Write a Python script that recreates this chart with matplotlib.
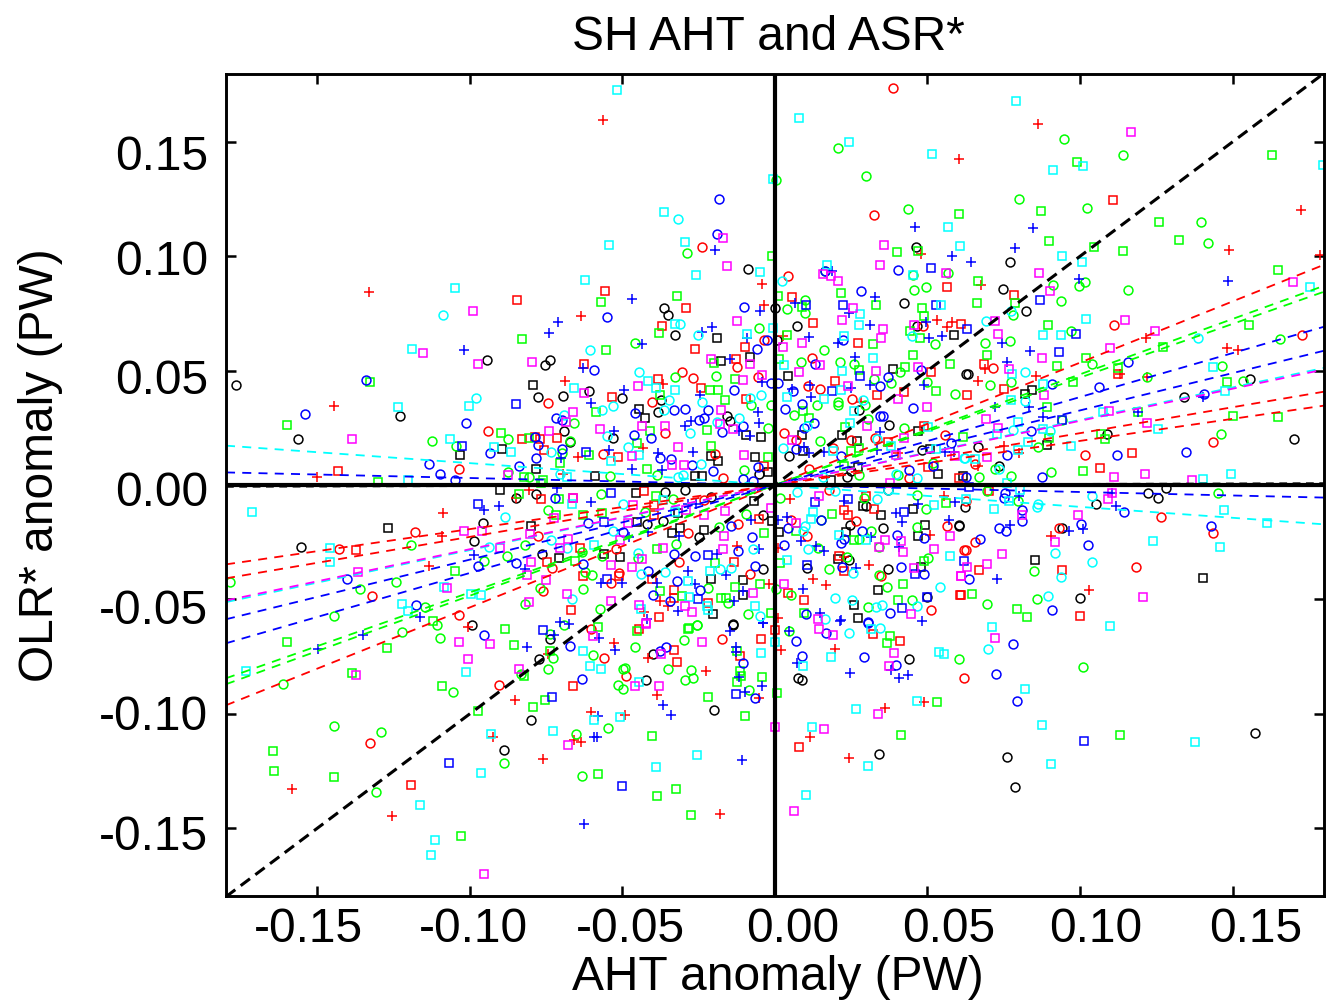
import matplotlib
matplotlib.use("Agg")
import matplotlib.pyplot as plt
from matplotlib.transforms import ScaledTranslation

plt.rcParams['font.family'] = ['Liberation Sans', 'DejaVu Sans']

# ---------- data: (AHT anomaly, OLR* anomaly) in PW ----------
black_circles = [(-0.0364,0.0775),(-0.0351,0.0745),(-0.0089,0.0945),(0.0,0.0775),(0.0462,0.1041),(0.0423,0.0797),(0.0072,0.0697),(-0.0328,0.0657),(0.0005,0.0635),(0.0466,0.0697),(0.077,0.0976),(0.0748,0.0858),(0.0823,0.0762),(0.0633,0.0487),(0.1341,0.0386),(0.1557,0.0465),(0.1089,0.0225),(0.1702,0.0199),(0.0666,0.0164),(0.0734,0.0085),(0.1223,-0.0033),(0.1256,-0.0055),(0.1282,-0.0011),(0.0623,-0.0098),(0.1052,-0.0081),(0.0603,-0.0177),(0.0941,-0.019),(0.1,-0.0496),(0.1574,-0.1085),(0.0761,-0.119),(0.0787,-0.1321),(-0.04,-0.074),(-0.0138,-0.0609),(-0.0423,-0.0854),(-0.02,-0.0985),(0.0439,-0.0762),(0.0075,-0.0845),(0.0089,-0.0854),(0.0341,-0.1177),(-0.0993,-0.0614),(-0.0738,-0.0675),(-0.0774,-0.0762),(-0.08,-0.1028),(-0.0889,-0.1159),(-0.1767,0.0439),(-0.1564,0.0203),(-0.123,0.0303),(-0.0944,0.0548),(-0.0754,0.0526),(-0.0738,0.0548),(-0.0777,0.0386),(-0.0695,0.0391),(-0.061,0.0413),(-0.0692,0.0238),(-0.0672,0.0186),(-0.0784,-0.0041),(-0.0849,-0.0055),(-0.0957,-0.0168),(-0.0987,-0.0247),(-0.1554,-0.0269),(-0.0764,-0.0303),(-0.05,0.038),(-0.0374,0.037),(-0.0383,0.032),(-0.0157,0.0303),(-0.0146,0.0278),(-0.0532,0.0207),(-0.0051,0.0048),(0.0626,0.0486),(0.0277,0.0326),(0.0373,0.0263),(0.0482,0.0154),(0.0047,0.0125),(0.0249,0.006),(0.0236,0.0035),(-0.0361,-0.0031),(-0.0296,-0.0023),(-0.021,-0.0052),(-0.004,-0.0132),(-0.0248,-0.0229),(-0.0368,-0.0159),(-0.042,-0.0169),(-0.0038,-0.0367),(-0.0137,-0.0611),(0.0298,-0.009),(0.0369,-0.0023),(0.0247,-0.0176),(0.0353,-0.0186),(0.0604,-0.018),(0.0242,-0.0326),(0.0371,-0.0367),(0.0499,-0.0489),(0.0105,-0.0365)]
black_squares = [(0.0587,0.0657),(0.0843,0.0417),(0.082,0.04),(0.0892,0.0177),(0.0616,0.0041),(0.0852,-0.033),(0.1403,-0.0408),(-0.1033,0.0133),(-0.0895,0.0159),(-0.0793,0.0439),(-0.0784,0.0072),(-0.059,0.0041),(-0.1269,-0.0186),(-0.0902,-0.0024),(-0.08,-0.0181),(-0.0708,-0.0317),(-0.019,0.0644),(-0.0176,0.0543),(-0.0083,0.0559),(-0.0445,0.0332),(-0.0425,0.0295),(-0.0095,0.0217),(-0.0046,0.0208),(-0.021,0.0125),(-0.0187,0.0103),(-0.0066,0.0122),(-0.0263,0.0041),(-0.0239,0.0038),(-0.0022,0.0057),(0.0388,0.0507),(0.0042,0.0475),(0.022,0.022),(0.0087,0.022),(0.0469,0.0234),(0.0269,0.0191),(0.0093,0.015),(0.0509,0.0159),(0.0273,0.0079),(0.0184,0.002),(0.0533,0.0048),(-0.0455,-0.0036),(-0.0319,-0.0122),(-0.0068,-0.0071),(-0.001,-0.0159),(0.0012,-0.0205),(-0.0232,-0.0195),(-0.031,-0.0188),(-0.0338,-0.021),(-0.0452,-0.016),(-0.056,-0.03),(-0.0507,-0.0314),(-0.021,-0.041),(-0.0104,-0.0416),(-0.0106,-0.0482),(-0.0202,-0.0566),(0.0287,-0.009),(0.0348,-0.013),(0.0451,-0.0105),(0.0493,-0.0176),(0.047,-0.0224),(0.0233,-0.0205),(0.0208,-0.0323),(0.0479,-0.036),(0.0337,-0.046),(0.026,-0.0523),(0.0273,-0.0582)]
red_circles = [(0.0387,0.1736),(0.0325,0.1181),(-0.0239,0.1041),(0.0043,0.0915),(-0.0036,0.0635),(0.0485,0.0697),(0.0715,0.0513),(0.1111,0.0701),(0.1728,0.0657),(0.1016,0.0133),(0.1436,0.0186),(0.0656,0.0094),(0.0626,-0.0068),(0.1266,-0.0138),(0.0931,-0.019),(0.1436,-0.0212),(0.0656,-0.0251),(0.0626,-0.0286),(0.1184,-0.036),(0.062,-0.0845),(-0.0561,-0.0758),(-0.0174,-0.0675),(-0.0489,-0.0836),(-0.0905,-0.0876),(-0.0603,-0.0631),(-0.1328,-0.1129),(-0.0744,0.036),(-0.0941,0.0238),(-0.1036,0.0068),(-0.118,-0.0207),(-0.143,-0.0282),(-0.0777,-0.0225),(-0.1321,-0.0487),(-0.1036,-0.057),(-0.0731,-0.0365),(-0.0761,-0.0465),(-0.0305,0.0493),(-0.027,0.047),(-0.0125,0.0518),(-0.0056,0.0472),(-0.0403,0.0365),(-0.0361,0.0227),(-0.0564,0.0135),(-0.0196,0.0134),(-0.0172,0.003),(0.0121,0.0555),(0.0109,0.0435),(0.0148,0.0419),(0.0252,0.0378),(0.0031,0.0227),(0.0069,0.0198),(0.0249,0.0198),(0.0329,0.0204),(0.0559,0.0218),(0.0191,0.0162),(0.0113,0.007),(0.044,0.0031),(-0.0232,-0.0067),(-0.0122,-0.017),(-0.0286,-0.021),(-0.0521,-0.0282),(-0.051,-0.0384),(-0.0314,-0.0336),(-0.0538,-0.0428),(-0.0082,-0.0387),(0.0176,-0.002),(0.0052,-0.0151),(0.0563,-0.018),(0.0104,-0.0221),(0.0267,-0.0159),(0.0621,-0.0285),(0.0348,-0.0396),(0.051,-0.0547)]
red_squares = [(-0.0846,0.081),(0.0056,0.0823),(0.0564,0.0867),(-0.0557,0.0849),(-0.0292,0.0775),(0.0125,0.071),(-0.0371,0.0697),(-0.0098,0.0605),(-0.0262,0.0596),(0.0272,0.0622),(0.061,0.0705),(0.1108,0.1247),(0.0784,0.0832),(0.0685,0.0531),(0.1125,0.0487),(0.0751,0.0421),(0.063,0.0395),(0.117,0.0142),(0.0702,-0.0028),(0.1066,0.0076),(0.0669,-0.0373),(0.0941,-0.0373),(0.0607,-0.0483),(0.1,-0.0574),(-0.0046,-0.0675),(-0.0445,-0.0631),(-0.0331,-0.0723),(-0.0321,-0.0775),(-0.0115,-0.0749),(0.0,-0.0635),(0.0321,-0.0653),(0.041,-0.0683),(0.0079,-0.1146),(-0.0662,-0.088),(-0.1193,-0.1312),(-0.0626,0.0531),(-0.083,0.0203),(-0.0787,0.0212),(-0.077,0.0199),(-0.0715,0.0207),(-0.0757,0.0151),(-0.1433,0.0063),(-0.0767,-0.0063),(-0.0662,-0.0055),(-0.1374,-0.0286),(-0.0748,-0.0338),(-0.0639,-0.0277),(-0.063,-0.04),(-0.0669,-0.0548),(-0.0127,0.0552),(-0.0384,0.0464),(-0.0243,0.0425),(-0.0094,0.0377),(-0.0533,0.0386),(-0.0516,0.0122),(-0.0035,0.0081),(0.0511,0.0496),(0.0196,0.0454),(0.0334,0.0392),(0.0424,0.0405),(0.049,0.0259),(0.0369,0.0188),(0.0501,0.0079),(0.0602,0.0032),(-0.0431,-0.0026),(-0.0396,-0.0086),(-0.0396,-0.013),(-0.0051,-0.0147),(-0.0133,-0.0336),(-0.051,-0.0396),(-0.0403,-0.041),(-0.0332,-0.046),(-0.0332,-0.0493),(-0.0221,-0.0515),(-0.0379,-0.0576),(0.0298,-0.0049),(0.0326,-0.0103),(0.0227,-0.0111),(0.0238,-0.013),(0.0211,-0.0311),(0.0227,-0.0377),(0.0609,-0.0482),(0.0042,-0.0472),(0.0094,-0.0504)]
red_plus = [(-0.133,0.0845),(-0.0636,0.074),(-0.0564,0.1596),(0.0603,0.1426),(0.0479,0.1011),(-0.0043,0.088),(-0.0528,-0.0692),(-0.0036,0.0788),(0.0531,0.0723),(0.0564,0.0692),(0.058,0.0714),(0.0026,0.0653),(0.0862,0.1579),(0.1725,0.1203),(0.1489,0.1028),(0.1787,0.1007),(0.0675,0.0876),(0.1216,0.0644),(0.1482,0.06),(0.1518,0.0592),(0.0689,0.0509),(0.0856,0.0478),(0.1131,0.0487),(0.122,0.0474),(0.0666,0.0456),(0.0751,0.0172),(0.08,0.0138),(0.0666,0.0085),(0.0905,-0.0225),(0.103,-0.0461),(-0.0416,-0.0758),(-0.0226,-0.0814),(-0.0387,-0.0919),(-0.0052,-0.0932),(-0.0492,-0.1007),(-0.018,-0.1439),(0.002,-0.0723),(0.0197,-0.0718),(0.0489,-0.095),(0.0361,-0.0976),(0.0115,-0.1103),(0.0243,-0.1194),(-0.1007,-0.0622),(-0.0744,-0.074),(-0.0852,-0.0941),(-0.0603,-0.0993),(-0.0659,-0.1116),(-0.0636,-0.1124),(-0.1584,-0.133),(-0.1256,-0.1448),(-0.0925,-0.1103),(-0.0761,-0.1199),(-0.1446,0.0347),(-0.0689,0.0456),(-0.0646,0.0124),(-0.1502,0.0037),(-0.0695,0.005),(-0.1089,-0.0124),(-0.0807,-0.002),(-0.0849,-0.0055),(-0.1092,-0.0225),(-0.1134,-0.0356),(-0.0366,0.0443),(-0.0433,0.0162),(0.0282,0.0361),(0.0404,0.014),(-0.0126,-0.0268),(-0.0377,-0.0505),(-0.0021,-0.0431),(-0.0428,-0.0555),(-0.0352,-0.053),(0.005,-0.006),(0.0554,-0.0049),(0.0509,-0.022),(0.0009,-0.0275),(0.0227,-0.0314),(0.0309,-0.0351),(0.0125,-0.0409),(0.0167,-0.0436),(0.0009,-0.0581)]
green_circles = [(0.0207,0.1474),(0.0298,0.1351),(0.0003,0.1334),(0.0436,0.1207),(0.0567,0.0928),(0.0452,0.0919),(0.0456,0.0854),(0.0495,0.0867),(0.0164,0.0937),(-0.0289,0.1015),(0.0098,0.081),(0.0039,0.0771),(0.0098,0.0753),(-0.0052,0.0688),(-0.0459,0.0622),(0.0161,0.0592),(0.0525,0.0618),(0.0948,0.1513),(0.1141,0.1443),(0.08,0.1251),(0.1023,0.1212),(0.1397,0.1151),(0.142,0.1059),(0.1016,0.0889),(0.0997,0.0871),(0.0911,0.0876),(0.1157,0.0854),(0.0938,0.0806),(0.078,0.0745),(0.097,0.0675),(0.1656,0.064),(0.0689,0.0622),(0.077,0.0631),(0.1039,0.0531),(0.1466,0.0522),(0.122,0.0474),(0.0705,0.0439),(0.0774,0.0452),(0.1534,0.0456),(0.0941,0.0286),(0.1462,0.0225),(0.0862,0.0168),(0.0721,0.0068),(0.0774,0.0041),(0.0669,0.0033),(0.0905,0.0055),(0.0695,-0.0028),(0.1452,-0.0033),(0.0797,-0.0068),(0.0849,-0.0378),(0.0859,-0.05),(0.0695,-0.0522),(0.0603,-0.0762),(0.101,-0.0797),(-0.0498,-0.0806),(-0.0492,-0.0801),(-0.0351,-0.0806),(-0.0275,-0.081),(-0.0295,-0.0854),(-0.0269,-0.0845),(-0.0515,-0.0876),(-0.0498,-0.0893),(-0.0298,-0.0679),(-0.0256,-0.0614),(-0.0459,-0.071),(-0.0085,-0.0897),(-0.0548,-0.1063),(0.0046,-0.064),(-0.1613,-0.0871),(-0.1223,-0.0644),(-0.1108,-0.0614),(-0.1098,-0.067),(-0.1056,-0.0906),(-0.0738,-0.0653),(-0.0692,-0.0614),(-0.0728,-0.0758),(-0.0744,-0.0806),(-0.0833,-0.0828),(-0.0597,-0.0745),(-0.1446,-0.1055),(-0.1292,-0.1081),(-0.1308,-0.1343),(-0.0652,-0.1089),(-0.0889,-0.1216),(-0.0633,-0.1273),(-0.1125,0.0194),(-0.1046,0.0172),(-0.0875,0.0203),(-0.0672,0.0194),(-0.0698,0.0142),(-0.0659,0.0269),(-0.0875,0.0059),(-0.0807,0.0037),(-0.1193,-0.0264),(-0.0744,-0.0111),(-0.1787,-0.0426),(-0.1361,-0.0456),(-0.1243,-0.0426),(-0.1446,-0.0574),(-0.1148,-0.0535),(-0.0954,-0.0334),(-0.0879,-0.0312),(-0.082,-0.0264),(-0.077,-0.0452),(-0.082,-0.0522),(-0.0633,-0.0295),(-0.0623,-0.0382),(-0.06,-0.0395),(-0.063,-0.0456),(-0.0327,0.0472),(-0.0193,0.0475),(-0.008,0.0351),(-0.0013,0.0351),(-0.0022,0.0249),(-0.0388,0.0044),(-0.0103,0.0064),(-0.0541,0.0041),(0.0084,0.0537),(0.0212,0.0537),(0.0258,0.0528),(0.0411,0.0496),(0.0326,0.0464),(0.0381,0.0448),(0.05,0.045),(0.0591,0.04),(0.0138,0.0351),(0.0205,0.0365),(0.0205,0.0348),(0.0294,0.0348),(0.0061,0.0304),(0.0304,0.029),(0.0422,0.0249),(0.0148,0.0194),(0.0517,0.0096),(0.0277,0.0044),(0.0404,0.0042),(-0.0572,-0.0041),(-0.0336,-0.006),(-0.0425,-0.0118),(-0.0095,-0.0125),(-0.0184,-0.0183),(-0.0568,-0.0309),(-0.0325,-0.026),(-0.045,-0.0319),(-0.0219,-0.0452),(-0.0155,-0.0518),(-0.009,-0.0563),(-0.0574,-0.0544),(-0.0256,-0.0611),(0.0003,-0.0454),(0.0016,-0.0057),(0.0293,-0.0057),(0.0464,-0.0042),(0.0495,-0.0103),(0.0151,-0.0151),(0.0467,-0.0185),(0.0316,-0.0202),(0.0277,-0.0234),(0.034,-0.0271),(0.0142,-0.0275),(0.0501,-0.0319),(0.0235,-0.0314),(0.0178,-0.0367),(0.0342,-0.0394),(0.0367,-0.0448),(0.0051,-0.0483),(0.0449,-0.0504),(0.0306,-0.0533)]
green_squares = [(-0.083,0.064),(-0.0321,0.0828),(-0.057,0.0801),(-0.038,0.0666),(-0.0554,0.0592),(-0.001,0.1002),(0.0603,0.1186),(0.04,0.102),(0.0469,0.1024),(0.001,0.0828),(0.0216,0.0841),(0.0331,0.0788),(0.0482,0.0775),(0.0489,0.074),(0.0089,0.0779),(0.0039,0.0657),(0.0321,0.0618),(0.0443,0.0675),(0.0475,0.0644),(0.163,0.1443),(0.099,0.1413),(0.0872,0.1199),(0.1259,0.1151),(0.1325,0.1072),(0.0898,0.1068),(0.1046,0.1041),(0.1141,0.1024),(0.1649,0.0941),(0.0666,0.0893),(0.0662,0.0797),(0.0787,0.0797),(0.0895,0.0701),(0.1554,0.0701),(0.1272,0.0605),(0.0695,0.057),(0.0925,0.0522),(0.102,0.0557),(0.1125,0.0513),(0.0977,0.0452),(0.1482,0.0452),(0.0892,0.0343),(0.119,0.0317),(0.1502,0.0303),(0.1649,0.0299),(0.0616,0.0212),(0.1069,0.0225),(0.1082,0.0199),(0.0898,0.0207),(0.101,0.0063),(0.0646,-0.0478),(0.0793,-0.0544),(0.0826,-0.0579),(0.1131,-0.1094),(-0.058,-0.0622),(-0.0452,-0.064),(-0.0285,-0.0631),(-0.0125,-0.0727),(-0.0115,-0.0814),(-0.0111,-0.0836),(-0.0125,-0.0862),(-0.0043,-0.0841),(-0.022,-0.0928),(-0.0098,-0.1011),(0.0007,-0.091),(-0.0403,-0.1098),(-0.058,-0.1264),(-0.0325,-0.133),(-0.0387,-0.136),(-0.0275,-0.1443),(0.0377,-0.0662),(0.0367,-0.0692),(0.0531,-0.095),(0.0413,-0.1094),(-0.16,-0.0688),(-0.1272,-0.0714),(-0.1387,-0.0823),(-0.1121,-0.0596),(-0.0885,-0.0631),(-0.0856,-0.0701),(-0.0738,-0.0727),(-0.1092,-0.088),(-0.0823,-0.0836),(-0.0793,-0.0972),(-0.0754,-0.0941),(-0.0974,-0.0989),(-0.1646,-0.1164),(-0.1643,-0.1251),(-0.1446,-0.1277),(-0.103,-0.1535),(-0.1328,0.0452),(-0.16,0.0264),(-0.0587,0.0317),(-0.0898,0.0229),(-0.0807,0.0207),(-0.061,0.0133),(-0.0705,0.0098),(-0.0823,0.0037),(-0.1302,0.0015),(-0.0761,0.002),(-0.0767,0.0007),(-0.0839,-0.0041),(-0.0708,-0.0063),(-0.0718,-0.0129),(-0.063,-0.0133),(-0.1049,-0.0378),(-0.0656,-0.0334),(-0.02,0.0533),(-0.0378,0.0395),(-0.0213,0.0414),(-0.0188,0.0414),(-0.0131,0.0464),(-0.0164,0.0373),(-0.041,0.0237),(-0.0224,0.0242),(-0.0454,0.0182),(-0.021,0.0169),(-0.0421,0.007),(-0.0022,0.0122),(0.0014,0.055),(0.0454,0.0569),(0.0426,0.0515),(0.0574,0.053),(0.0277,0.0504),(0.0529,0.0409),(0.0091,0.0325),(0.0113,0.0293),(0.0228,0.0253),(0.0274,0.0162),(0.0249,0.0147),(0.0227,0.0082),(-0.039,-0.0047),(-0.0567,-0.0122),(-0.0035,-0.021),(-0.0388,-0.0278),(-0.0197,-0.0341),(-0.0048,-0.0431),(-0.0376,-0.0464),(-0.0305,-0.0486),(-0.0177,-0.0493),(-0.0161,-0.0493),(-0.013,-0.0445),(-0.0013,-0.0559),(-0.0283,-0.0624),(0.0561,-0.0079),(0.0187,-0.0127),(0.0069,-0.0202),(0.026,-0.0239),(0.049,-0.0333),(0.0017,-0.0343),(0.0421,-0.0435),(0.0404,-0.0504),(0.0096,-0.0559)]
blue_circles = [(-0.0184,0.1251),(-0.019,0.1098),(0.0403,0.0941),(0.0164,0.0937),(-0.0551,0.0736),(0.0282,0.0849),(-0.0102,0.0779),(0.0223,0.0635),(-0.0059,0.0596),(-0.0026,0.0635),(0.1157,0.0539),(0.0908,0.0443),(0.1062,0.043),(0.1407,0.04),(0.0839,0.0238),(0.1121,0.0129),(0.1348,0.0146),(0.0761,0.0133),(0.0626,0.0033),(0.0875,0.0037),(0.0754,-0.0037),(0.0751,-0.0055),(0.1144,-0.0116),(0.081,-0.0111),(0.081,-0.0159),(0.0734,-0.019),(0.0757,-0.0199),(0.1003,-0.0172),(0.143,-0.0181),(0.0672,-0.0234),(0.1026,-0.0264),(0.0636,-0.0413),(0.0908,-0.0548),(0.078,-0.0697),(0.0725,-0.0828),(0.0793,-0.0945),(-0.0357,-0.071),(-0.0377,-0.0727),(-0.0105,-0.078),(-0.0066,-0.0932),(0.0069,-0.0683),(0.0167,-0.0648),(0.0305,-0.06),(0.0089,-0.0749),(0.0292,-0.0753),(0.0397,-0.0788),(-0.0954,-0.0657),(-0.0672,-0.0705),(-0.0633,-0.0849),(-0.1341,0.0461),(-0.1541,0.0312),(-0.1013,0.0269),(-0.0593,0.0504),(-0.0698,0.0286),(-0.0718,0.0295),(-0.0787,0.0212),(-0.0777,0.0177),(-0.0934,0.0138),(-0.0784,0.012),(-0.0698,0.0159),(-0.1134,0.009),(-0.1098,0.005),(-0.1049,0.0024),(-0.0839,0.0085),(-0.0721,-0.0055),(-0.0613,-0.0164),(-0.1403,-0.0413),(-0.1177,-0.0526),(-0.0974,-0.0356),(-0.0849,-0.0343),(-0.063,-0.0347),(-0.0134,0.0416),(-0.0014,0.0444),(-0.046,0.0314),(-0.0331,0.0326),(-0.0294,0.0333),(-0.0221,0.0329),(-0.025,0.0285),(-0.0232,0.0293),(-0.0106,0.0256),(-0.0174,0.0233),(-0.0463,0.0218),(-0.0408,0.0204),(-0.0378,0.0116),(-0.034,0.0115),(-0.0272,0.0087),(-0.0202,0.006),(-0.0055,0.0079),(-0.0104,0.0026),(-0.0073,0.0019),(0.0131,0.053),(0.048,0.0504),(0.0369,0.0472),(0.0344,0.0434),(0.0009,0.0445),(0.006,0.0412),(0.0087,0.0352),(0.0452,0.0335),(0.0033,0.0333),(0.0344,0.0303),(0.0353,0.0303),(0.0127,0.0271),(0.0094,0.0249),(0.0577,0.0183),(0.007,0.0157),(0.0216,0.0125),(0.0518,0.0082),(0.044,0.0064),(-0.0144,-0.018),(-0.0074,-0.0227),(-0.0497,-0.0205),(-0.033,-0.03),(-0.0261,-0.0309),(-0.0122,-0.0287),(-0.0415,-0.0377),(-0.0064,-0.0352),(-0.0321,-0.0418),(-0.0245,-0.0461),(-0.0399,-0.0483),(-0.0344,-0.0505),(0.0043,-0.0188),(0.0151,-0.0151),(0.0227,-0.0234),(0.0217,-0.0253),(0.0285,-0.0202),(0.04,-0.0217),(0.049,-0.0231),(0.0028,-0.0261),(0.0219,-0.036),(0.0413,-0.036),(0.0487,-0.0389),(0.0378,-0.0559),(0.0102,-0.0566),(0.0306,-0.0603)]
blue_squares = [(0.0102,0.0788),(0.0223,0.0788),(0.0528,0.0788),(0.0511,0.095),(0.0869,0.081),(0.063,0.0683),(0.0987,0.0662),(0.0931,0.0583),(0.0941,0.0286),(0.0636,-0.0007),(0.062,-0.0334),(0.1013,-0.112),(-0.0128,-0.0915),(-0.0502,-0.1317),(-0.0761,-0.0635),(-0.0731,-0.0928),(-0.1069,-0.1216),(-0.1026,0.0172),(-0.0849,0.0352),(-0.062,0.0146),(-0.0974,-0.0085),(0.028,0.0475),(0.0187,0.0412),(-0.0539,-0.0035),(-0.056,-0.0162),(-0.022,-0.0307),(-0.0551,-0.0413),(-0.0251,-0.05),(0.0131,-0.0074),(0.024,-0.006),(0.0424,-0.0118),(0.0104,-0.0348),(0.046,-0.0387),(0.0415,-0.0537),(0.0499,-0.0489)]
blue_plus = [(-0.102,0.0592),(-0.071,0.0714),(-0.074,0.0666),(0.0459,0.1129),(-0.0197,0.1028),(0.058,0.1002),(0.0187,0.0937),(-0.0469,0.0814),(0.0328,0.0823),(0.0066,0.0797),(-0.0049,0.0762),(0.0243,0.0753),(0.0311,0.0701),(0.0495,0.0714),(-0.0239,0.067),(-0.0207,0.0692),(-0.0092,0.0644),(0.0111,0.0648),(0.0207,0.0622),(-0.0436,0.0618),(0.0505,0.0644),(0.0548,0.0653),(0.0846,0.1124),(0.0787,0.1037),(0.0643,0.0976),(0.0997,0.0902),(0.1485,0.0893),(0.0744,0.0622),(0.0836,0.0587),(0.0761,0.0539),(0.1404,0.0386),(0.0721,0.0343),(0.0833,0.0343),(0.0879,0.0299),(0.119,0.0317),(0.08,-0.0046),(0.1105,-0.0033),(0.1118,-0.0094),(0.077,-0.0177),(0.0964,-0.0199),(0.101,-0.0194),(0.0728,-0.0413),(-0.0577,-0.067),(-0.0525,-0.0723),(-0.0148,-0.064),(-0.0039,-0.0605),(-0.0128,-0.071),(-0.0128,-0.0732),(-0.0118,-0.0841),(-0.0043,-0.088),(-0.0367,-0.0963),(-0.0341,-0.1007),(-0.0098,-0.0906),(-0.058,-0.1011),(-0.0584,-0.1103),(-0.0108,-0.1203),(0.0046,-0.0637),(0.0213,-0.0596),(0.0072,-0.078),(0.0246,-0.0823),(0.0407,-0.0845),(0.0436,-0.0832),(0.038,-0.081),(-0.1498,-0.0718),(-0.1351,-0.0657),(-0.0813,-0.071),(-0.0725,-0.0657),(-0.0705,-0.06),(-0.0675,-0.0609),(-0.0593,-0.1103),(-0.0626,-0.1482),(-0.063,0.0513),(-0.0603,0.036),(-0.0702,0.012),(-0.0715,-0.0011),(-0.0954,-0.0111),(-0.0905,-0.0094),(-0.0603,-0.0076),(-0.0987,-0.0308),(-0.082,-0.0369),(-0.1164,-0.0579),(-0.0148,0.0552),(-0.0496,0.0415),(-0.0247,0.0392),(-0.0044,0.045),(-0.0275,0.0281),(-0.0294,0.0256),(-0.0057,0.0319),(-0.0051,0.0271),(-0.0117,0.0237),(-0.0081,0.0213),(-0.0527,0.0237),(-0.0543,0.0153),(-0.0383,0.014),(-0.0268,0.0143),(-0.0469,0.0068),(-0.0369,0.0064),(0.0262,0.0559),(0.049,0.0438),(0.0116,0.0438),(0.0249,0.0426),(0.0055,0.0421),(0.0118,0.0383),(0.0313,0.0437),(0.0345,0.023),(0.0096,0.0166),(0.0113,0.014),(0.016,0.0143),(0.0333,0.0151),(0.0557,0.0143),(0.0586,0.0143),(-0.0286,-0.0082),(-0.0259,-0.0082),(-0.0079,-0.0151),(-0.0316,-0.0224),(-0.0478,-0.0227),(-0.0418,-0.0205),(-0.019,-0.0301),(-0.0054,-0.0278),(-0.0286,-0.0377),(-0.0161,-0.0392),(-0.0262,-0.0435),(-0.057,-0.0428),(-0.05,-0.0428),(-0.0387,-0.0428),(-0.0106,-0.0464),(-0.0136,-0.0508),(-0.0317,-0.0552),(-0.0421,-0.0588),(-0.004,-0.0605),(0.0227,-0.0071),(0.0397,-0.0122),(0.0468,-0.0082),(0.0591,-0.0076),(0.0415,-0.0163),(0.0569,-0.0151),(0.0011,-0.0151),(0.0039,-0.014),(0.0315,-0.0229),(0.0405,-0.0272),(0.0085,-0.0246),(0.0134,-0.0268),(0.016,-0.029),(0.0266,-0.0365),(0.0093,-0.0454),(0.0147,-0.0559),(0.0216,-0.0592),(0.0482,-0.0595)]
cyan_circles = [(-0.109,0.0745),(-0.0607,0.0592),(-0.0318,0.1164),(0.0023,0.0893),(-0.0311,0.0705),(-0.0252,0.0657),(0.0449,0.0653),(0.0692,0.0718),(0.0774,0.0762),(0.1387,0.0644),(0.082,0.0496),(0.082,0.0369),(0.078,0.0242),(0.0902,0.0238),(0.0623,0.0116),(0.0734,0.0068),(0.1039,-0.005),(0.0859,-0.0098),(0.0862,-0.0081),(0.0918,-0.0299),(0.1039,-0.0338),(0.0938,-0.0404),(0.0895,-0.0487),(0.0698,-0.0718),(0.0243,-0.0648),(0.0344,-0.0627),(-0.098,0.0382),(-0.0692,0.0308),(-0.0734,0.0146),(-0.0705,0.005),(-0.0885,-0.0142),(-0.0938,-0.0269),(-0.0734,-0.0242),(-0.0682,-0.0277),(-0.0666,-0.05),(-0.0445,0.0496),(-0.0083,0.038),(-0.0047,0.0394),(-0.0531,0.0344),(-0.0568,0.0326),(-0.0347,0.037),(-0.0363,0.0329),(-0.0239,0.0365),(-0.0119,0.0295),(-0.0191,0.0274),(-0.0552,0.0213),(-0.0279,0.0227),(-0.0481,0.0164),(-0.0244,0.009),(-0.0301,0.0044),(-0.0319,0.0035),(0.0287,0.0373),(0.0334,0.0201),(0.0104,0.0259),(0.0025,0.0162),(0.0619,0.0118),(0.0158,0.0033),(0.0397,0.005),(0.0464,0.0031),(-0.0499,-0.0082),(-0.053,-0.0199),(-0.0448,-0.0297),(-0.0071,-0.0279),(-0.0439,-0.0387),(-0.0361,-0.0381),(-0.0179,-0.0367),(-0.0144,-0.0362),(-0.0048,-0.0574),(0.0071,-0.0032),(0.0198,-0.0028),(0.0333,-0.006),(0.0369,-0.0023),(0.0099,-0.018),(0.0093,-0.0202),(0.0107,-0.0278),(0.0255,-0.0384),(0.0542,-0.0445),(0.0196,-0.0493),(0.0254,-0.0501),(0.0467,-0.0527),(0.0331,-0.0533),(0.0351,-0.0525),(0.0165,-0.0584)]
cyan_squares = [(-0.105,0.086),(-0.0623,0.0897),(-0.119,0.0596),(-0.0518,0.1727),(0.0079,0.1605),(0.0243,0.15),(0.0515,0.1448),(-0.0007,0.1338),(-0.0364,0.1194),(0.0567,0.1129),(-0.0295,0.1063),(-0.0544,0.105),(0.0607,0.1046),(-0.0259,0.0919),(-0.0049,0.0932),(0.017,0.0963),(0.0452,0.0919),(0.0544,0.0788),(0.0279,0.0749),(0.0275,0.0701),(-0.0328,0.0705),(-0.0092,0.0662),(-0.0007,0.0688),(0.0226,0.0653),(0.079,0.1679),(0.101,0.1395),(0.0911,0.1378),(0.1797,0.14),(0.0941,0.1002),(0.1007,0.0976),(0.1754,0.0867),(0.102,0.0727),(0.0879,0.0657),(0.0938,0.0657),(0.0777,0.0487),(0.1436,0.0517),(0.0879,0.0443),(0.0774,0.0373),(0.1475,0.0413),(0.1075,0.0321),(0.0797,0.0277),(0.1256,0.0247),(0.0728,0.0225),(0.0879,0.0247),(0.097,0.0172),(0.083,0.0186),(0.0797,0.0155),(0.0656,0.0115),(0.1403,0.0028),(0.1495,0.0046),(0.0761,0.0007),(0.0803,-0.0024),(0.0767,-0.0068),(0.0626,-0.006),(0.0718,-0.0107),(0.1472,-0.0111),(0.1613,-0.0168),(0.1239,-0.0247),(0.1459,-0.0273),(0.0711,-0.0622),(0.1098,-0.0618),(0.082,-0.0893),(0.0875,-0.105),(0.1377,-0.1124),(0.0905,-0.1221),(-0.057,-0.0806),(-0.0046,-0.0736),(0.0,-0.0688),(-0.0446,-0.0862),(-0.0508,-0.1015),(-0.0256,-0.1181),(-0.039,-0.1234),(0.0184,-0.0753),(0.0315,-0.0631),(0.0092,-0.0793),(0.0538,-0.0731),(0.0554,-0.074),(0.0466,-0.0945),(0.0266,-0.098),(0.0121,-0.1059),(0.0305,-0.1229),(0.0102,-0.1356),(-0.1734,-0.0814),(-0.1013,-0.0819),(-0.063,-0.0727),(-0.0607,-0.0793),(-0.0728,-0.1076),(-0.0593,-0.1028),(-0.1164,-0.14),(-0.1115,-0.1552),(-0.1128,-0.1618),(-0.0931,-0.1089),(-0.0964,-0.126),(-0.1236,0.0343),(-0.1003,0.0347),(-0.1066,0.0203),(-0.0659,0.0426),(-0.0921,0.0164),(-0.0866,0.0146),(-0.1203,0.002),(-0.0682,0.0033),(-0.1715,-0.012),(-0.0666,-0.0081),(-0.1459,-0.0277),(-0.1459,-0.0338),(-0.1223,-0.0522),(-0.1203,-0.0552),(-0.1085,-0.0448),(-0.0997,-0.0478),(-0.0964,-0.0483),(-0.0593,-0.0264),(-0.0417,0.0456),(-0.0389,0.0425),(-0.0328,0.0414),(-0.0538,0.0106),(-0.0446,0.0131),(0.0031,0.0523),(0.0221,0.05),(0.032,0.0555),(0.0039,0.0383),(0.0216,0.0415),(0.0162,0.0377),(0.026,0.0322),(0.0247,0.0271),(0.0503,0.0253),(0.038,0.0169),(0.0528,0.0159),(0.0191,0.0147),(-0.0368,-0.0064),(-0.0328,-0.0119),(-0.0213,-0.0377),(-0.0286,-0.042),(-0.0281,-0.0489),(-0.0224,-0.053),(-0.0219,-0.0547),(-0.0066,-0.053),(-0.0439,-0.0541),(0.0124,-0.0118),(0.0117,-0.0148),(0.0522,-0.0086),(0.0211,-0.0217),(0.0298,-0.0242),(0.0039,-0.0326),(0.0575,-0.0309)]
magenta_squares = [(-0.099,0.076),(-0.1154,0.0578),(-0.017,0.1081),(0.0357,0.105),(-0.0157,0.0959),(0.0344,0.0963),(0.0561,0.0928),(0.0157,0.0924),(0.0184,0.0915),(0.0207,0.0893),(0.0256,0.0775),(0.022,0.0723),(-0.0125,0.0718),(0.0354,0.0683),(0.0456,0.0701),(0.0026,0.0605),(0.0089,0.0622),(0.0348,0.0644),(0.1167,0.1544),(0.0866,0.0928),(0.0902,0.0849),(0.1698,0.0889),(0.0721,0.0718),(0.0731,0.0662),(0.1148,0.0723),(0.1246,0.0675),(0.1098,0.06),(0.0875,0.0557),(0.0767,0.0509),(0.0882,0.0395),(0.1095,0.0325),(0.0692,0.029),(0.122,0.0269),(0.0731,0.0251),(0.0695,0.0124),(0.1111,0.0033),(0.1213,0.005),(0.1367,0.002),(0.1105,-0.0033),(0.1092,-0.0063),(0.081,-0.0133),(0.0993,-0.0129),(0.0918,-0.0251),(0.063,-0.036),(0.0744,-0.0303),(0.0695,-0.0347),(0.061,-0.04),(0.1207,-0.0491),(0.0721,-0.067),(-0.0374,-0.074),(-0.0239,-0.0688),(-0.0459,-0.088),(-0.038,-0.088),(-0.0423,-0.0605),(0.0,-0.1059),(0.0144,-0.0631),(0.019,-0.0657),(0.039,-0.0736),(0.0374,-0.0793),(0.0338,-0.1002),(0.0161,-0.1068),(0.0062,-0.1426),(-0.1374,-0.0832),(-0.1036,-0.0688),(-0.0934,-0.0697),(-0.1007,-0.0762),(-0.0839,-0.0806),(-0.0597,-0.0662),(-0.0679,-0.1138),(-0.0954,-0.1701),(-0.1387,0.0203),(-0.0974,0.0531),(-0.0797,0.0539),(-0.0626,0.0404),(-0.0662,0.0321),(-0.0685,0.0277),(-0.0741,0.0234),(-0.0875,0.0045),(-0.0662,-0.0055),(-0.0725,-0.0146),(-0.102,-0.0199),(-0.0961,-0.0203),(-0.0803,-0.0216),(-0.1367,-0.0382),(-0.1075,-0.0452),(-0.0902,-0.0277),(-0.08,-0.0338),(-0.0813,-0.0395),(-0.0705,-0.0277),(-0.0679,-0.0238),(-0.0751,-0.0417),(-0.0807,-0.0513),(-0.0682,-0.0478),(-0.0209,0.0552),(-0.0083,0.053),(-0.0105,0.0459),(-0.0044,0.0482),(-0.0449,0.0431),(-0.0176,0.0329),(-0.018,0.0268),(-0.0437,0.0256),(-0.036,0.0259),(-0.0139,0.0245),(-0.0574,0.0245),(-0.0318,0.0167),(-0.0468,0.0125),(-0.0338,0.0087),(-0.0298,0.0087),(-0.0103,0.0131),(0.0149,0.0525),(0.0469,0.0515),(0.0331,0.05),(0.008,0.0494),(0.0238,0.0434),(0.0402,0.0377),(0.0497,0.0339),(0.0302,0.0256),(0.0424,0.0205),(0.0055,0.0195),(0.0397,0.0132),(0.0591,0.0125),(0.0377,0.0009),(-0.0464,-0.0086),(-0.0292,-0.0108),(-0.0232,-0.013),(-0.0163,-0.0112),(-0.0013,-0.01),(-0.0166,-0.0224),(-0.0483,-0.0166),(-0.0508,-0.0239),(-0.0366,-0.0275),(-0.0169,-0.0278),(-0.0436,-0.0322),(-0.0538,-0.0348),(-0.0469,-0.036),(-0.0073,-0.0472),(-0.0538,-0.0508),(-0.0445,-0.0523),(-0.0294,-0.0528),(-0.0273,-0.0555),(-0.0423,-0.0606),(0.0143,-0.0049),(0.0069,-0.0166),(0.0573,-0.0221),(0.0361,-0.0242),(0.034,-0.0271),(0.0413,-0.0246),(0.0421,-0.0294),(0.0521,-0.0279),(0.0457,-0.0365),(0.0611,-0.0396),(0.0028,-0.0435),(0.0446,-0.0566),(0.0142,-0.0584)]

# regression line values at the right-hand edge of the plot (x = 0.18)
line_edge = 0.18
red_line_ends = [0.0963, 0.0408, 0.0347]
green_line_ends = [0.0871, 0.0845]
blue_line_ends = [0.0692, 0.0587, -0.0055]
cyan_line_ends = [0.0512, -0.0172]
magenta_line_ends = [0.0505]
black_line_ends = [0.0007]

x_ticks = [-0.15, -0.10, -0.05, 0.0, 0.05, 0.10, 0.15]
y_ticks = [-0.15, -0.10, -0.05, 0.0, 0.05, 0.10, 0.15]
tick_text = ['-0.15', '-0.10', '-0.05', '0.00', '0.05', '0.10', '0.15']
x_label_shift_px = [-9, 3, 8, 18, 21, 16, 23]
y_label_shift_px = [-4, 1, -7, -4, -6, -1, -11]

W, H = 1328, 1002
fig = plt.figure(figsize=(W / 100, H / 100), dpi=100)
ax = fig.add_axes([226 / W, 1 - 896 / H, (1324 - 226) / W, (896 - 74) / H])
ax.set_xlim(-0.18, 0.18)
ax.set_ylim(-0.1797, 0.1797)

def lines(ends, color):
    for v in ends:
        ax.plot([-line_edge, line_edge], [-v, v], color=color, lw=1.3,
                dashes=(5.0, 4.0), zorder=3)

lines(red_line_ends, '#ff0000')
lines(green_line_ends, '#00ff00')
lines(blue_line_ends, '#0000ff')
lines(cyan_line_ends, '#00ffff')
lines(magenta_line_ends, '#ff00ff')
ax.plot([-line_edge, line_edge], [-black_line_ends[0], black_line_ends[0]], color='k', lw=1.6, dashes=(3.5, 2.5), zorder=3)

def pts(data, color, marker):
    xs = [p[0] for p in data]
    ys = [p[1] for p in data]
    if marker == 'o':
        ms = 6.4
    elif marker == 's':
        ms = 5.8
    else:
        ms = 7.0
    ax.plot(xs, ys, linestyle='none', marker=marker, ms=ms, mfc='none', mec=color,
            mew=1.1, zorder=2)

pts(black_circles, '#000000', 'o')
pts(black_squares, '#000000', 's')
pts(red_circles, '#ff0000', 'o')
pts(red_squares, '#ff0000', 's')
pts(red_plus, '#ff0000', '+')
pts(green_circles, '#00ff00', 'o')
pts(green_squares, '#00ff00', 's')
pts(blue_circles, '#0000ff', 'o')
pts(blue_squares, '#0000ff', 's')
pts(blue_plus, '#0000ff', '+')
pts(cyan_circles, '#00ffff', 'o')
pts(cyan_squares, '#00ffff', 's')
pts(magenta_squares, '#ff00ff', 's')

ax.plot([-line_edge, line_edge], [-line_edge, line_edge], color='k', lw=2.2, dashes=(3.8, 2.2), zorder=4)
ax.axvline(0, color='k', lw=3.0, zorder=5)
ax.axhline(0, color='k', lw=3.0, zorder=5)

for s in ax.spines.values():
    s.set_linewidth(2.1)
    s.set_zorder(6)

ax.set_xticks(x_ticks)
ax.set_yticks(y_ticks)
ax.set_xticklabels(tick_text)
ax.set_yticklabels(tick_text)
ax.tick_params(axis='both', which='major', direction='in', length=7.2, width=1.8,
               top=True, right=True, labelsize=34.5)
ax.tick_params(axis='x', pad=8)
ax.tick_params(axis='y', pad=13)
for lab, dx in zip(ax.get_xticklabels(), x_label_shift_px):
    lab.set_transform(lab.get_transform() + ScaledTranslation(dx / 100, 0, fig.dpi_scale_trans))
for lab, dy in zip(ax.get_yticklabels(), y_label_shift_px):
    lab.set_transform(lab.get_transform() + ScaledTranslation(0, dy / 100, fig.dpi_scale_trans))

fig.text(768 / W, 1 - 37 / H, 'SH AHT and ASR*', fontsize=34.5, ha='center', va='center')
fig.text(778 / W, 1 - 977 / H, 'AHT anomaly (PW)', fontsize=34.5, ha='center', va='center')
fig.text(41 / W, 1 - 465 / H, 'OLR* anomaly (PW)', fontsize=34.5, ha='center', va='center', rotation=90)

fig.savefig('out.png', dpi=100)
